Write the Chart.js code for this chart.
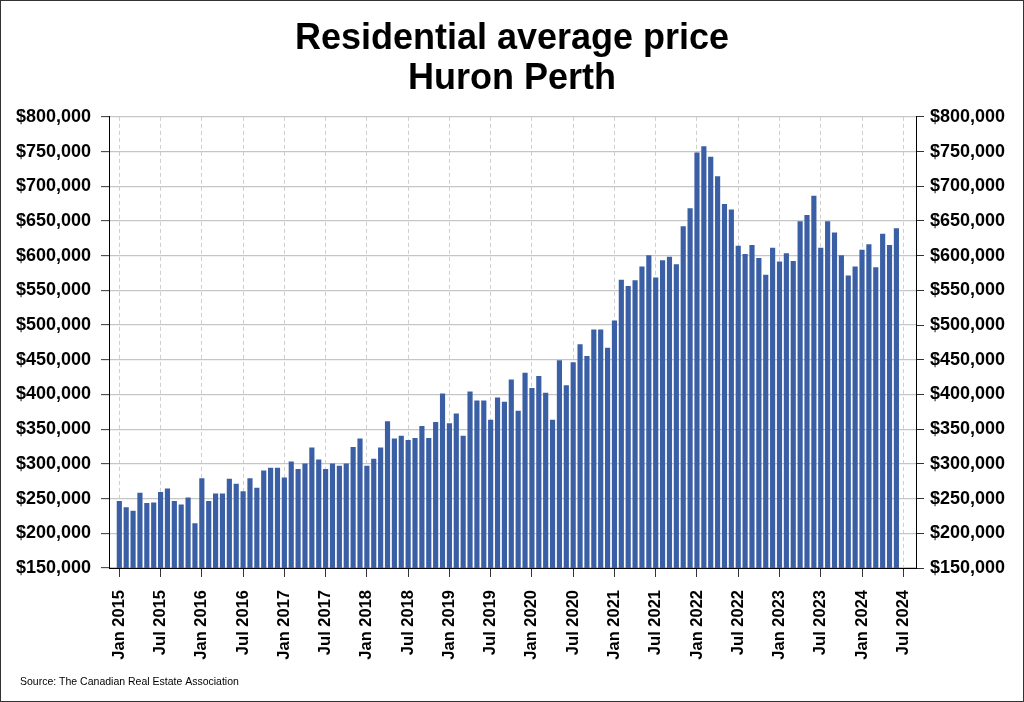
<!DOCTYPE html>
<html>
<head>
<meta charset="utf-8">
<script src="https://cdn.jsdelivr.net/npm/chart.js@4.4.1/dist/chart.umd.min.js"></script>
<style>
  html, body { margin: 0; padding: 0; background: #fff; }
  #wrap { width: 1024px; height: 702px; }
</style>
</head>
<body>
<div id="wrap"><canvas id="c" width="1024" height="702"></canvas></div>
<script>
// ---- Data ----
const months = [
  "Jan 2015","Feb 2015","Mar 2015","Apr 2015","May 2015","Jun 2015","Jul 2015","Aug 2015","Sep 2015","Oct 2015","Nov 2015","Dec 2015",
  "Jan 2016","Feb 2016","Mar 2016","Apr 2016","May 2016","Jun 2016","Jul 2016","Aug 2016","Sep 2016","Oct 2016","Nov 2016","Dec 2016",
  "Jan 2017","Feb 2017","Mar 2017","Apr 2017","May 2017","Jun 2017","Jul 2017","Aug 2017","Sep 2017","Oct 2017","Nov 2017","Dec 2017",
  "Jan 2018","Feb 2018","Mar 2018","Apr 2018","May 2018","Jun 2018","Jul 2018","Aug 2018","Sep 2018","Oct 2018","Nov 2018","Dec 2018",
  "Jan 2019","Feb 2019","Mar 2019","Apr 2019","May 2019","Jun 2019","Jul 2019","Aug 2019","Sep 2019","Oct 2019","Nov 2019","Dec 2019",
  "Jan 2020","Feb 2020","Mar 2020","Apr 2020","May 2020","Jun 2020","Jul 2020","Aug 2020","Sep 2020","Oct 2020","Nov 2020","Dec 2020",
  "Jan 2021","Feb 2021","Mar 2021","Apr 2021","May 2021","Jun 2021","Jul 2021","Aug 2021","Sep 2021","Oct 2021","Nov 2021","Dec 2021",
  "Jan 2022","Feb 2022","Mar 2022","Apr 2022","May 2022","Jun 2022","Jul 2022","Aug 2022","Sep 2022","Oct 2022","Nov 2022","Dec 2022",
  "Jan 2023","Feb 2023","Mar 2023","Apr 2023","May 2023","Jun 2023","Jul 2023","Aug 2023","Sep 2023","Oct 2023","Nov 2023","Dec 2023",
  "Jan 2024","Feb 2024","Mar 2024","Apr 2024","May 2024","Jun 2024"
];

const averagePrice = [
  246000, 237000, 232000, 258000, 243000, 244000, 259000, 264000, 246000, 241000, 251000, 214000,
  279000, 246000, 257000, 257000, 278000, 271000, 260000, 279000, 265000, 290000, 294000, 294000,
  280000, 303000, 292000, 300000, 323000, 306000, 292000, 300000, 297000, 300000, 324000, 336000,
  297000, 307000, 323000, 361000, 336000, 340000, 334000, 337000, 354000, 337000, 360000, 401000,
  358000, 372000, 340000, 404000, 391000, 391000, 363000, 395000, 389000, 421000, 376000, 431000,
  409000, 426000, 402000, 363000, 449000, 413000, 446000, 472000, 455000, 493000, 493000, 467000,
  506000, 565000, 556000, 564000, 584000, 600000, 568000, 593000, 598000, 587000, 642000, 668000,
  748000, 757000, 742000, 714000, 674000, 666000, 614000, 602000, 615000, 596000, 572000, 611000,
  591000, 603000, 592000, 649000, 658000, 686000, 611000, 649000, 633000, 600000, 571000, 584000,
  608000, 616000, 583000, 631000, 615000, 639000
];

const xTickLabels = [
  "Jan 2015","Jul 2015","Jan 2016","Jul 2016","Jan 2017","Jul 2017","Jan 2018","Jul 2018",
  "Jan 2019","Jul 2019","Jan 2020","Jul 2020","Jan 2021","Jul 2021","Jan 2022","Jul 2022",
  "Jan 2023","Jul 2023","Jan 2024","Jul 2024"
];

const yMin = 150000, yMax = 800000, yStep = 50000;
const titleLines = ["Residential average price", "Huron Perth"];
const sourceText = "Source: The Canadian Real Estate Association";

// ---- Chart ----
const FONT = "'Liberation Sans', Arial, Helvetica, sans-serif";
const BAR_COLOR = "#3a5fa5";
const fmtMoney = v => "$" + Number(v).toLocaleString("en-US");

const barData = averagePrice.map((v, i) => ({ x: i, y: v }));
const xTickPositions = xTickLabels.map((_, k) => k * 6);
const xLabelAt = {};
xTickPositions.forEach((p, k) => { xLabelAt[p] = xTickLabels[k]; });

const framePlugin = {
  id: "frame",
  beforeDraw(chart) {
    const ctx = chart.ctx;
    ctx.save();
    ctx.fillStyle = "#ffffff";
    ctx.fillRect(0, 0, chart.width, chart.height);
    ctx.restore();
  },
  afterDraw(chart) {
    const ctx = chart.ctx;
    ctx.save();
    ctx.strokeStyle = "#333333";
    ctx.lineWidth = 1;
    ctx.strokeRect(0.5, 0.5, chart.width - 1, chart.height - 1);
    ctx.fillStyle = "#000000";
    ctx.font = "10.5px " + FONT;
    ctx.textBaseline = "middle";
    ctx.textAlign = "left";
    ctx.fillText(sourceText, 20, 682);
    ctx.restore();
  }
};

new Chart(document.getElementById("c"), {
  type: "bar",
  data: {
    datasets: [{
      label: "Residential average price",
      data: barData,
      backgroundColor: BAR_COLOR,
      borderWidth: 0,
      barThickness: 4.5,
      yAxisID: "y"
    }]
  },
  options: {
    responsive: false,
    animation: false,
    layout: { padding: { left: 0, right: 0, top: 0, bottom: 0 } },
    plugins: {
      legend: { display: false },
      tooltip: { enabled: false },
      title: {
        display: true,
        text: titleLines,
        color: "#000000",
        font: { family: FONT, size: 36, weight: "bold", lineHeight: 1.13 },
        padding: { top: 18.5, bottom: 17 }
      }
    },
    scales: {
      x: {
        type: "linear",
        offset: false,
        min: -1.5,
        max: 115.85,
        afterBuildTicks: (scale) => { scale.ticks = xTickPositions.map(v => ({ value: v })); },
        afterFit: (scale) => { scale.height = 134; },
        ticks: {
          autoSkip: false,
          minRotation: 90,
          maxRotation: 90,
          padding: 13,
          color: "#000000",
          font: { family: FONT, size: 16.5, weight: "bold" },
          callback: (v) => xLabelAt[v] || ""
        },
        grid: {
          offset: false,
          color: "#cfcfcf",
          lineWidth: 1,
          drawTicks: true,
          tickLength: 9,
          tickColor: "#333333",
          tickWidth: 1
        },
        border: { display: true, color: "#000000", width: 1, dash: [4, 3] }
      },
      y: {
        position: "left",
        min: yMin,
        max: yMax,
        afterFit: (scale) => { scale.width = 109; },
        ticks: {
          stepSize: yStep,
          padding: 10,
          color: "#000000",
          font: { family: FONT, size: 18, weight: "bold" },
          callback: fmtMoney
        },
        grid: {
          color: "#c6c6c6",
          lineWidth: 1.3,
          tickLength: 8,
          tickColor: "#333333",
          tickWidth: 1
        },
        border: { display: true, color: "#000000", width: 1 }
      },
      y2: {
        position: "right",
        min: yMin,
        max: yMax,
        afterFit: (scale) => { scale.width = 108; },
        ticks: {
          stepSize: yStep,
          padding: 6,
          color: "#000000",
          font: { family: FONT, size: 18, weight: "bold" },
          callback: fmtMoney
        },
        grid: {
          drawOnChartArea: false,
          tickLength: 8,
          tickColor: "#333333",
          tickWidth: 1
        },
        border: { display: true, color: "#000000", width: 1 }
      }
    }
  },
  plugins: [framePlugin]
});
</script>
</body>
</html>
